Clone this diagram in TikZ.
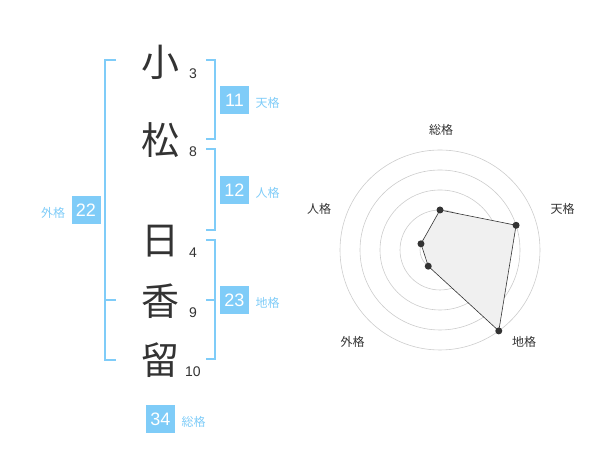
\documentclass[tikz,border=0pt]{standalone}
\usepackage{fontspec}
\setmainfont{Liberation Sans}
\newfontfamily\jpfont{Noto Sans CJK JP}
\definecolor{seiblue}{HTML}{7FCCF8}
\definecolor{inkgray}{HTML}{333333}
\definecolor{ringgray}{HTML}{CCCCCC}
\definecolor{areagray}{HTML}{F0F0F0}

\tikzstyle{kanji} = [text=inkgray, font=\jpfont\fontsize{38}{38}\selectfont, inner sep=0pt]
\tikzstyle{count} = [text=inkgray, font=\fontsize{14}{14}\selectfont, inner sep=0pt]
\tikzstyle{score} = [rectangle, minimum width=29pt, minimum height=28pt, inner sep=0pt,
fill=seiblue, text=white, font=\fontsize{18}{18}\selectfont]
\tikzstyle{caption} = [text=seiblue, font=\jpfont\fontsize{12}{12}\selectfont, inner sep=0pt]
\tikzstyle{bracket} = [draw=seiblue, line width=1.8pt]
\tikzstyle{axislabel} = [text=inkgray, font=\jpfont\fontsize{12}{12}\selectfont, inner sep=0pt]
\tikzstyle{ring} = [draw=ringgray, line width=0.6pt]
\tikzstyle{area} = [draw=inkgray, fill=areagray, line width=0.6pt]

\begin{document}
\begin{tikzpicture}[x=1pt, y=1pt, node distance=33pt]
			\useasboundingbox (0,0) rectangle (600,470);
			
			% name and stroke counts
			\node (k1) [kanji] at (160,408) {小};
			\node (k2) [kanji] at (160,330) {松};
			\node (k3) [kanji] at (160,229) {日};
			\node (k4) [kanji] at (160,169) {香};
			\node (k5) [kanji] at (160,110) {留};
			\node (n1) [count, right of=k1, yshift=-12pt] {3};
			\node (n2) [count, right of=k2, yshift=-12pt] {8};
			\node (n3) [count, right of=k3, yshift=-12pt] {4};
			\node (n4) [count, right of=k4, yshift=-12pt] {9};
			\node (n5) [count, right of=k5, yshift=-12pt] {10};
			
			% brackets
			\draw [bracket] (206,410) -- (215,410) -- (215,331) -- (206,331);
			\draw [bracket] (206,321) -- (215,321) -- (215,240) -- (206,240);
			\draw [bracket] (206,230) -- (215,230) -- (215,111) -- (206,111);
			\draw [bracket] (206,170) -- (215,170);
			\draw [bracket] (116,410) -- (105,410) -- (105,110) -- (116,110);
			\draw [bracket] (105,170) -- (116,170);
			
			% scores
			\node (ten) [score] at (234.5,370) {11};
			\node (jin) [score] at (234.5,280) {12};
			\node (chi) [score] at (234.5,170) {23};
			\node (gai) [score] at (86,260) {22};
			\node (so) [score] at (160.5,51) {34};
			\node (tenLabel) [caption, right of=ten, yshift=-3pt] {天格};
			\node (jinLabel) [caption, right of=jin, yshift=-3pt] {人格};
			\node (chiLabel) [caption, right of=chi, yshift=-3pt] {地格};
			\node (gaiLabel) [caption, left of=gai, yshift=-3pt] {外格};
			\node (soLabel) [caption, right of=so, yshift=-3pt] {総格};
			
			% radar chart
			\begin{scope}[shift={(440,220)}]
				\foreach \r in {20,40,...,100}
					\draw [ring] (0,0) circle (\r pt);
				\fill [ringgray] (0,0) circle (3.5pt);
				\coordinate (pSo) at (90:40);
				\coordinate (pTen) at (18:80);
				\coordinate (pChi) at (-54:100);
				\coordinate (pGai) at (-126:20);
				\coordinate (pJin) at (162:20);
				\draw [area] (pSo) -- (pTen) -- (pChi) -- (pGai) -- (pJin) -- cycle;
				\foreach \p in {pSo,pTen,pChi,pGai,pJin}
					\fill [inkgray] (\p) circle (3.5pt);
			\end{scope}
			\node (axisSo) [axislabel] at (441,340) {総格};
			\node (axisTen) [axislabel] at (562.5,261) {天格};
			\node (axisJin) [axislabel] at (319,261) {人格};
			\node (axisGai) [axislabel] at (352.5,128) {外格};
			\node (axisChi) [axislabel] at (524,128) {地格};
			
		\end{tikzpicture}
\end{document}
